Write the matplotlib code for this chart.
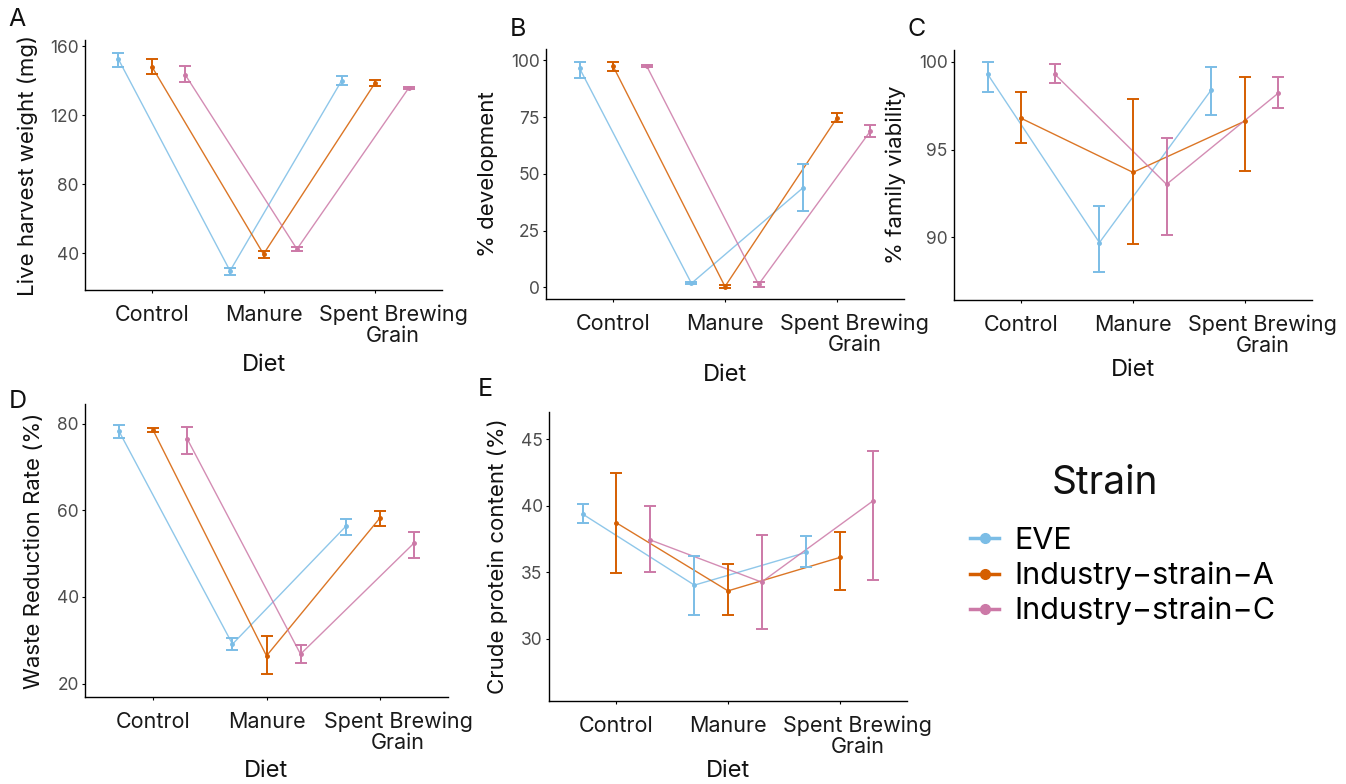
import matplotlib
matplotlib.use("Agg")
import matplotlib.pyplot as plt
from matplotlib.lines import Line2D
import matplotlib.transforms as mtransforms
import numpy as np

plt.rcParams['font.family'] = ['Inter', 'DejaVu Sans']

diets = ["Control", "Manure", "Spent Brewing\nGrain"]
strains = ["EVE", "Industry\u2212strain\u2212A", "Industry\u2212strain\u2212C"]
colors = ["#7BBDE6", "#D55E00", "#CC79A7"]

# Panel A: live harvest weight (mg) -- mean, lower, upper per strain x diet
A_mean = [[152.3, 29.7, 139.9], [148.0, 39.4, 138.6], [143.2, 42.3, 135.5]]
A_lo   = [[147.7, 27.1, 137.2], [143.8, 36.9, 136.7], [139.0, 41.0, 134.9]]
A_hi   = [[155.8, 31.1, 142.4], [152.3, 41.0, 140.2], [148.2, 43.5, 136.1]]

# Panel B: % development
B_mean = [[96.5, 1.8, 44.0], [97.4, 0.4, 74.6], [97.5, 1.3, 68.9]]
B_lo   = [[92.1, 1.3, 33.5], [95.3, -0.2, 72.8], [96.9, 0.0, 66.1]]
B_hi   = [[99.1, 2.3, 54.5], [99.4, 0.9, 76.6], [98.1, 2.2, 71.7]]

# Panel C: % family viability
C_mean = [[99.3, 89.7, 98.4], [96.78, 93.7, 96.62], [99.3, 93.02, 98.22]]
C_lo   = [[98.26, 88.0, 96.95], [95.36, 89.6, 93.76], [98.77, 90.11, 97.35]]
C_hi   = [[100.0, 91.8, 99.68], [98.26, 97.86, 99.11], [99.85, 95.68, 99.11]]

# Panel D: waste reduction rate (%)
D_mean = [[78.2, 29.1, 56.3], [78.5, 26.4, 58.2], [76.5, 26.8, 52.4]]
D_lo   = [[76.6, 27.7, 54.3], [78.0, 22.2, 56.3], [72.9, 24.8, 49.0]]
D_hi   = [[79.6, 30.5, 58.0], [78.9, 31.0, 59.7], [79.3, 28.8, 54.9]]

# Panel E: crude protein content (%)
E_mean = [[39.37, 34.03, 36.49], [38.72, 33.6, 36.11], [37.44, 34.26, 40.38]]
E_lo   = [[38.67, 31.75, 35.38], [34.92, 31.75, 33.64], [35.05, 30.70, 34.38]]
E_hi   = [[40.1, 36.24, 37.69], [42.43, 35.6, 38.04], [40.0, 37.77, 44.1]]

W, H = 1346, 784
fig = plt.figure(figsize=(W / 100, H / 100), dpi=100)


def add_ax(x0, y0, x1, y1):
    return fig.add_axes([x0 / W, 1 - y1 / H, (x1 - x0) / W, (y1 - y0) / H])


panels = [
    dict(rect=(85, 40, 442, 290), mean=A_mean, lo=A_lo, hi=A_hi, ylim=(18.6, 163.5),
         yticks=[40, 80, 120, 160], ylabel="Live harvest weight (mg)", letter="A", lpos=(17, 19),
         dietlab_y=365),
    dict(rect=(546, 49, 904, 299), mean=B_mean, lo=B_lo, hi=B_hi, ylim=(-5.1, 105),
         yticks=[0, 25, 50, 75, 100], ylabel="% development", letter="B", lpos=(518, 29),
         dietlab_y=375),
    dict(rect=(954, 50, 1312, 300), mean=C_mean, lo=C_lo, hi=C_hi, ylim=(86.43, 100.67),
         yticks=[90, 95, 100], ylabel="% family viability", letter="C", lpos=(917, 29),
         dietlab_y=370),
    dict(rect=(85, 404, 448, 697), mean=D_mean, lo=D_lo, hi=D_hi, ylim=(16.9, 84.5),
         yticks=[20, 40, 60, 80], ylabel="Waste Reduction Rate (%)", letter="D", lpos=(18, 401),
         dietlab_y=771),
    dict(rect=(549, 412, 907, 701), mean=E_mean, lo=E_lo, hi=E_hi, ylim=(25.33, 47.03),
         yticks=[30, 35, 40, 45], ylabel="Crude protein content (%)", letter="E", lpos=(485, 390),
         dietlab_y=771),
]

offsets = [-0.3, 0.0, 0.3]
x = np.arange(1, len(diets) + 1)

for p in panels:
    x0, y0, x1, y1 = p["rect"]
    ax = add_ax(x0, y0, x1, y1)
    for i, s in enumerate(strains):
        xs = x + offsets[i]
        m = np.array(p["mean"][i])
        lo = np.array(p["lo"][i])
        hi = np.array(p["hi"][i])
        ax.plot(xs, m, color=colors[i], lw=1.0, alpha=0.85, zorder=2)
        ax.errorbar(xs, m, yerr=[m - lo, hi - m], fmt="none", ecolor=colors[i],
                    elinewidth=1.4, capsize=4.3, capthick=1.4, zorder=3)
        ax.plot(xs, m, "o", color=colors[i], ms=2.5, zorder=4)
    ax.set_xlim(0.4, 3.6)
    ax.set_ylim(*p["ylim"])
    ax.set_yticks(p["yticks"])
    ax.set_xticks(x)
    ax.set_xticklabels(diets, fontsize=15.5, color="#1a1a1a", linespacing=1.05)
    ax.tick_params(axis="y", labelsize=12.5, labelcolor="#4D4D4D", length=2.5, width=0.8, pad=2)
    ax.tick_params(axis="x", length=2.5, width=0.8, pad=8)
    lab = ax.get_xticklabels()[2]
    lab.set_transform(lab.get_transform() + mtransforms.ScaledTranslation(18 / 100, 0, fig.dpi_scale_trans))
    for side in ["top", "right"]:
        ax.spines[side].set_visible(False)
    for side in ["left", "bottom"]:
        ax.spines[side].set_linewidth(1.0)
    ax.set_ylabel(p["ylabel"], fontsize=16, color="#111111", labelpad=9)
    cx = (x0 + x1) / 2
    fig.text(cx / W, 1 - p["dietlab_y"] / H, "Diet", fontsize=17, ha="center", va="center", color="#111111")
    fig.text(p["lpos"][0] / W, 1 - p["lpos"][1] / H, p["letter"], fontsize=18, ha="center", va="center",
             color="#111111")

# legend
fig.text(1105 / W, 1 - 483 / H, "Strain", fontsize=28, ha="center", va="center", color="#111111")
handles = [Line2D([0], [0], color=c, lw=2.5, marker="o", ms=7) for c in colors]
leg = fig.legend(handles, strains, loc="upper left",
                 bbox_to_anchor=(970 / W, 1 - 527 / H), frameon=False, fontsize=22,
                 handlelength=0.95, labelspacing=0.22, handletextpad=0.5, borderpad=0,
                 borderaxespad=0)

fig.savefig("out.png", dpi=100)
